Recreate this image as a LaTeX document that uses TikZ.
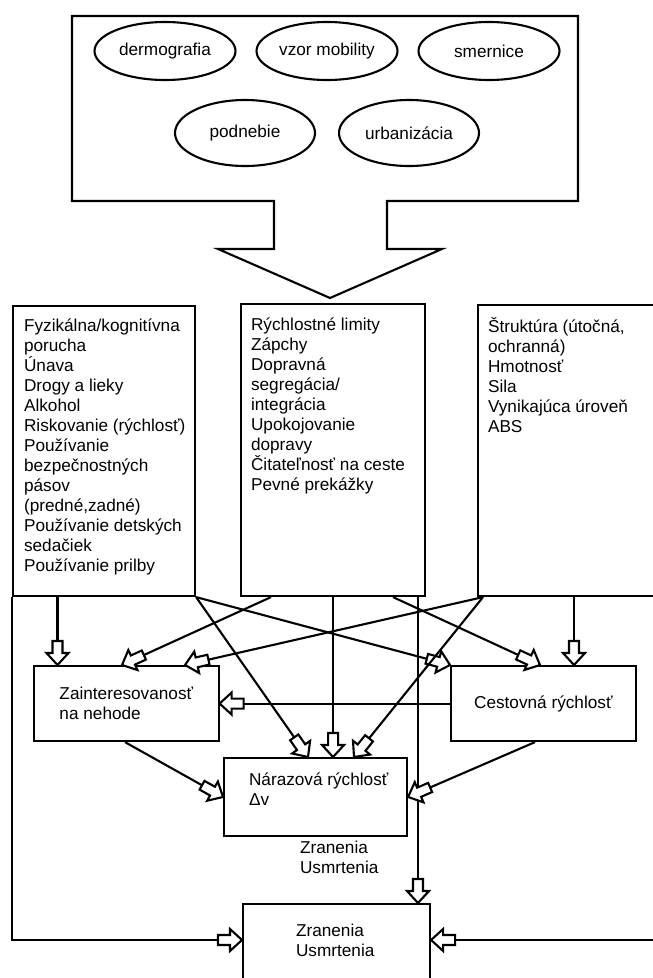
\documentclass[tikz,border=0pt]{standalone}
\usepackage{fontspec}
\setmainfont{Liberation Sans}
\usepackage{tikz}
\usetikzlibrary{shapes,positioning,calc,decorations.markings}

\begin{document}
\begin{tikzpicture}
[   x=1pt, y=-1pt, line width=2.1pt,
    font=\fontsize{17.2pt}{20pt}\selectfont,
    oval/.style={draw=black, ellipse, inner sep=0pt},
    box/.style={draw=black, rectangle, inner sep=0pt, anchor=north west},
    boxtext/.style={anchor=north west, align=left, inner sep=0pt},
    hollow/.style={postaction={decorate, decoration={markings, mark=at position 1 with {\draw[line width=2.1pt, fill=white, line join=miter] (0,0) -- (-12,11) -- (-12,5) -- (-24,5) -- (-24,-5) -- (-12,-5) -- (-12,-11) -- cycle;}}}}, ]

    \useasboundingbox (0,0) rectangle (653,978);

    \draw[line join=miter] (72,16) -- (578,16) -- (578,201) -- (387,201) -- (387,249) -- (442,249) -- (330,298) -- (218,249) -- (274,249) -- (274,201) -- (72,201) -- cycle;

\foreach \txt [count=\i] in {dermografia, vzor mobility, smernice}
{
    \node[oval, minimum width=141pt, minimum height=58pt] (top\i) at (165+162*\i-162,51) {\txt};
}
\foreach \txt [count=\i] in {podnebie, urbanizácia}
{
    \node[oval, minimum width=140pt, minimum height=66pt] (mid\i) at (245+164*\i-164,133) {\txt};
}

    \node[box, minimum width=182pt, minimum height=290pt, label={[boxtext, xshift=11pt, yshift=-13pt]north west:{Fyzikálna/kognitívna\\porucha\\Únava\\Drogy a lieky\\Alkohol\\Riskovanie (rýchlosť)\\Používanie\\bezpečnostných\\pásov\\(predné,zadné)\\Používanie detských\\sedačiek\\Používanie prilby}}] (lbox) at (12,305) {};

    \node[box, minimum width=184pt, minimum height=292pt, label={[boxtext, xshift=10pt, yshift=-14pt]north west:{Rýchlostné limity\\Zápchy\\Dopravná\\segregácia/\\integrácia\\Upokojovanie\\dopravy\\Čitateľnosť na ceste\\Pevné prekážky}}] (mbox) at (240,303) {};

    \node[box, minimum width=190pt, minimum height=291pt, label={[boxtext, xshift=10pt, yshift=-12pt]north west:{Štruktúra (útočná,\\ochranná)\\Hmotnosť\\Sila\\Vynikajúca úroveň\\ABS}}] (rbox) at (477,304) {};

    \node[box, align=left, minimum width=184.5pt, minimum height=75pt] (zbox) at (33,665) {Zainteresovanosť\\na nehode};

    \node[box, minimum width=184.5pt, minimum height=75pt] (cbox) at (450,665) {Cestovná rýchlosť};

    \node[box, minimum width=183pt, minimum height=78pt, label={[boxtext, xshift=25pt, yshift=-15pt]north west:{Nárazová rýchlosť\\Δv}}] (nbox) at (223,757) {};

    \node[boxtext] (ztext) at (299,840) {Zranenia\\Usmrtenia};

    \node[box, minimum width=187pt, minimum height=90pt, label={[boxtext, xshift=53pt, yshift=-20pt]north west:{Zranenia\\Usmrtenia}}] (bbox) at (242,903) {};

    \coordinate (l1) at ([xshift=45.5pt]lbox.south west);
    \coordinate (m4) at ([xshift=178pt]mbox.south west);
    \coordinate (r4) at ([xshift=97pt]rbox.south west);
    \coordinate (bl) at ([yshift=-37pt]bbox.north west);
    \coordinate (br) at ([yshift=-37pt]bbox.north east);

    \draw[hollow] (l1) -- (l1 |- zbox.north);
    \draw[hollow] ([xshift=31pt]mbox.south west) -- ([xshift=89pt]zbox.north west);
    \draw[hollow] ([xshift=6pt]rbox.south west) -- ([xshift=152pt]zbox.north west);
    \draw[hollow] (lbox.south east) -- ([xshift=85pt]nbox.north west);
    \draw[hollow] (lbox.south east) -- (cbox.north west);
    \draw[hollow] (mbox.south) -- (mbox.south |- nbox.north);
    \draw[hollow] ([xshift=153pt]mbox.south west) -- ([xshift=90pt]cbox.north west);
    \draw[hollow] (m4) -- (m4 |- bbox.north);
    \draw[hollow] ([xshift=6pt]rbox.south west) -- ([xshift=131pt]nbox.north west);
    \draw[hollow] (r4) -- (r4 |- cbox.north);
    \draw[hollow] (cbox.west) -- (zbox.east);
    \draw[hollow] ([xshift=92pt]zbox.south west) -- ([yshift=-40pt]nbox.north west);
    \draw[hollow] ([xshift=85pt]cbox.south west) -- ([yshift=-40pt]nbox.north east);
    \draw[hollow] (lbox.south west) |- (bl);
    \draw[hollow] (rbox.south east) |- (br);

\end{tikzpicture}
\end{document}
